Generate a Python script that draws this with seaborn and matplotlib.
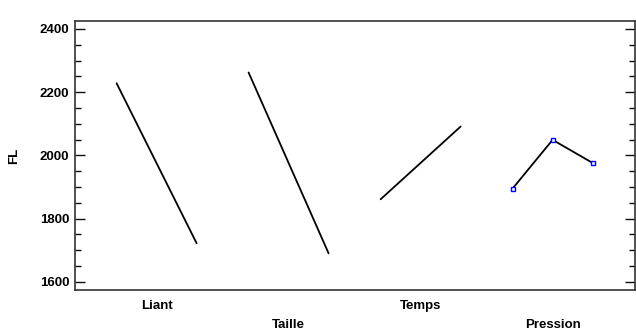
import numpy as np
import pandas as pd
import matplotlib
matplotlib.use("Agg")
import matplotlib.pyplot as plt
import matplotlib.transforms as mtransforms
from matplotlib.ticker import MultipleLocator
import seaborn as sns

# --- data ---
factors = ["Liant", "Taille", "Temps", "Pression"]
liant_fl = [2228, 1722]
taille_fl = [2262, 1690]
temps_fl = [1861, 2091]
pression_fl = [1895, 2049, 1976]
series = [liant_fl, taille_fl, temps_fl, pression_fl]
y_ticks = [1600, 1800, 2000, 2200, 2400]

sns.set_theme(style="white")
plt.rcParams["font.family"] = ["Liberation Sans", "DejaVu Sans"]
plt.rcParams["font.weight"] = "bold"

fig = plt.figure(figsize=(6.36, 3.33), dpi=100)
ax = fig.add_axes([75 / 636, 1 - 290 / 333, 560 / 636, 269 / 333])

group_step = 1.65
rows = []
for i, (name, vals) in enumerate(zip(factors, series)):
    xs = i * group_step + np.linspace(0, 1, len(vals))
    for x, v in zip(xs, vals):
        rows.append({"factor": name, "x": x, "FL": v})
df = pd.DataFrame(rows)

for i, name in enumerate(factors):
    sub = df[df["factor"] == name]
    if len(sub) > 2:
        sns.lineplot(data=sub, x="x", y="FL", ax=ax, color="black", lw=1.3,
                     marker="s", markersize=3.2, markerfacecolor="white",
                     markeredgecolor="#0000ff", markeredgewidth=1.0)
    else:
        sns.lineplot(data=sub, x="x", y="FL", ax=ax, color="black", lw=1.3)

ax.set_xlim(-0.52, 6.48)
ax.set_ylim(1574, 2425)
ax.set_xticks([])
ax.set_xlabel("")
ax.set_yticks(y_ticks)
ax.yaxis.set_minor_locator(MultipleLocator(50))
ax.tick_params(axis="y", which="major", direction="in", length=7.5, width=1.0,
               color="#111111", left=True, right=True, labelsize=9.5, pad=4,
               labelcolor="black")
ax.tick_params(axis="y", which="minor", direction="in", length=4, width=1.0,
               color="#111111", left=True, right=True)
for lab in ax.get_yticklabels():
    lab.set_fontweight("bold")
ax.set_ylabel("FL", fontsize=9.5, fontweight="bold", labelpad=14, color="black")

for s in ax.spines.values():
    s.set_visible(True)
    s.set_color("#333333")
    s.set_linewidth(1.2)

trans = mtransforms.blended_transform_factory(ax.transData, ax.transAxes)
for i, name in enumerate(factors):
    yy = -0.06 if i % 2 == 0 else -0.13
    ax.text(i * group_step + 0.5, yy, name, transform=trans, ha="center",
            va="center", fontsize=9.5, fontweight="bold", color="black")

fig.savefig("out.png", dpi=100)
